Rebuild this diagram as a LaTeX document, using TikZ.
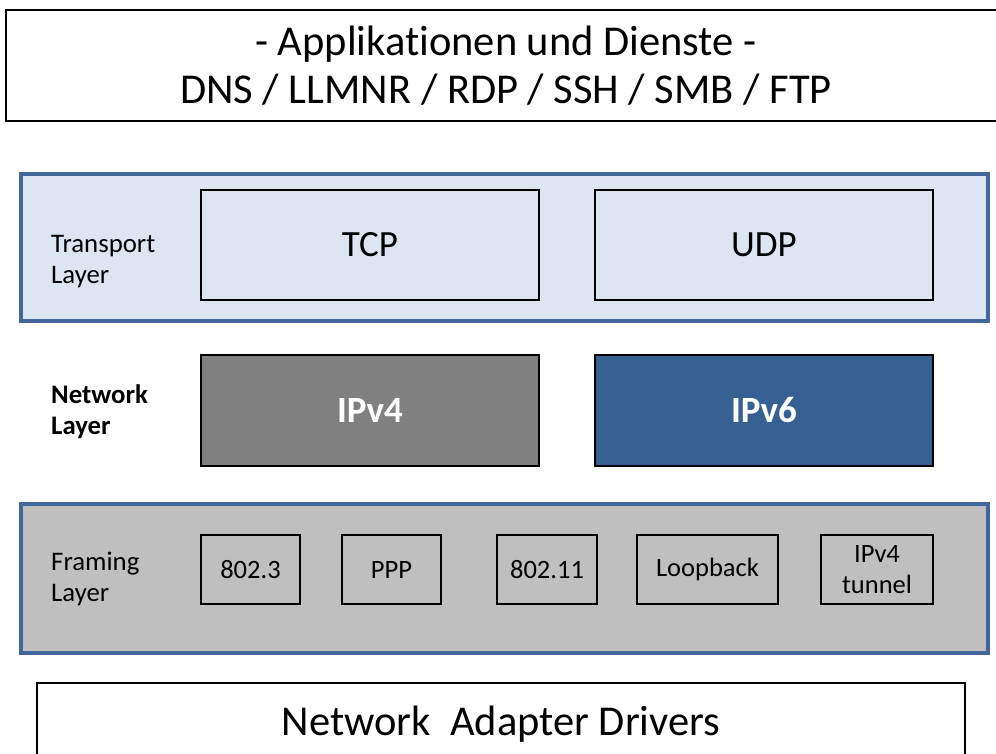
\documentclass[tikz,border=0pt]{standalone}
\usepackage{fontspec}
\setmainfont{Carlito}[Ligatures={NoCommon}]
\definecolor{layerblue}{HTML}{41679B}
\definecolor{transportfill}{HTML}{DCE6F2}
\definecolor{framingfill}{HTML}{BFBFBF}
\definecolor{ipvsixfill}{HTML}{376092}
\definecolor{ipvfourfill}{HTML}{808080}
\begin{document}
\begin{tikzpicture}[x=1pt,y=-1pt,
  plain/.style={draw=black, line width=2pt, inner sep=0pt},
  layerbox/.style={draw=layerblue, line width=4pt, inner sep=0pt},
  lbl/.style={anchor=west, align=left, inner sep=0pt, font=\fontsize{26.8}{31}\selectfont},
  proto/.style={font=\fontsize{37}{42}\selectfont},
  ipbox/.style={plain, text=white, font=\bfseries\fontsize{37}{42}\selectfont},
  frame/.style={plain, align=center, font=\fontsize{26.5}{31}\selectfont},
  big/.style={anchor=base, inner sep=0pt, font=\fontsize{42.5}{52}\selectfont},
]
\useasboundingbox (0,0) rectangle (996,754);

% applications
\draw[black, line width=2pt] (6,10) rectangle (1010,121);
\node[big] (appA) at (506,56) {- Applikationen und Dienste -};
\node[big] (appB) at (506,104) {DNS / LLMNR / RDP / SSH / SMB / FTP};

% transport layer
\draw[layerbox, fill=transportfill] (21,174) rectangle (988,321);
\node[lbl] (tl) at (51,262) {Transport\\Layer};
\node[plain, proto, minimum width=338pt, minimum height=110pt, anchor=north west] (tcp) at (200,189) {TCP};
\node[plain, proto, minimum width=338pt, minimum height=110pt, anchor=north west] (udp) at (594,189) {UDP};

% network layer
\node[lbl, font=\bfseries\fontsize{26.8}{31}\selectfont] (nl) at (51,412) {Network\\Layer};
\node[ipbox, fill=ipvfourfill, minimum width=338pt, minimum height=111pt, anchor=north west] (v4) at (200,354) {IPv4};
\node[ipbox, fill=ipvsixfill, minimum width=338pt, minimum height=111pt, anchor=north west] (v6) at (594,354) {IPv6};

% framing layer
\draw[layerbox, fill=framingfill] (21,504) rectangle (988,653);
\node[lbl] (fl) at (51,579) {Framing\\Layer};
\node[frame, minimum width=99pt, minimum height=69pt, anchor=north west] (eth) at (200,534) {802.3};
\node[frame, minimum width=99pt, minimum height=69pt, anchor=north west] (ppp) at (341,534) {PPP};
\node[frame, minimum width=100pt, minimum height=69pt, anchor=north west] (wlan) at (496,534) {802.11};
\node[frame, minimum width=141pt, minimum height=69pt, anchor=north west] (loop) at (636,534) {Loopback};
\node[frame, minimum width=112pt, minimum height=69pt, anchor=north west] (tun) at (820,534) {IPv4\\tunnel};

% drivers
\draw[black, line width=2pt] (37,683) rectangle (965,790);
\node[big, font=\fontsize{42.5}{50}\selectfont] (drv) at (501,735) {Network\hspace{0.45em}Adapter Drivers};
\end{tikzpicture}
\end{document}
